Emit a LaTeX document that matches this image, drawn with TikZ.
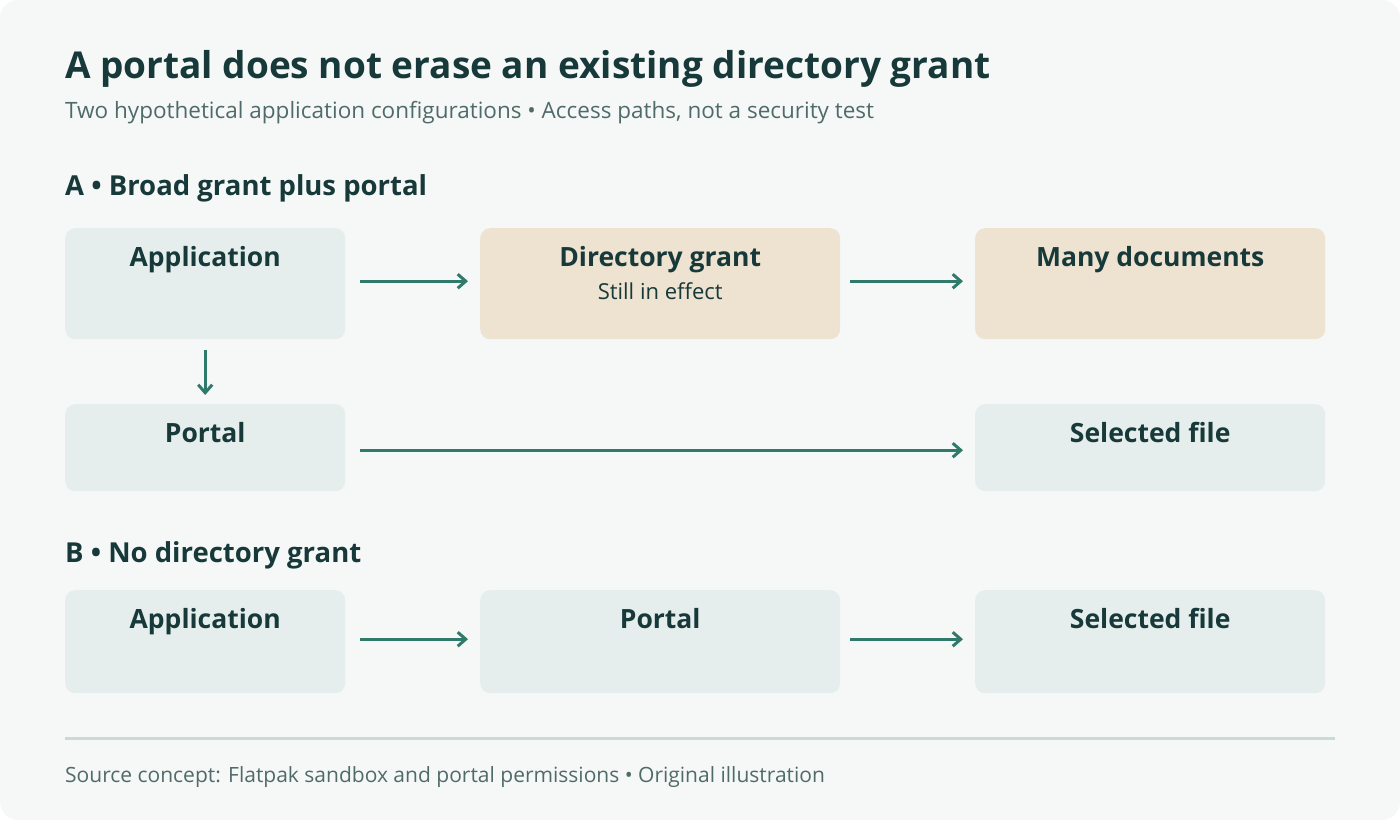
\documentclass[tikz,border=0pt]{standalone}
\usepackage{fontspec}
\setmainfont{Open Sans}
\usetikzlibrary{arrows.meta}
\definecolor{bgcol}{HTML}{F6F8F7}
\definecolor{inkcol}{HTML}{17393A}
\definecolor{greycol}{HTML}{4F6B69}
\definecolor{boxcol}{HTML}{E5EEEC}
\definecolor{sandcol}{HTML}{EEE2D0}
\definecolor{arrcol}{HTML}{2F7A6A}
\definecolor{rulecol}{HTML}{C9DAD8}
\tikzset{
  box/.style={draw=none, fill=boxcol, rounded corners=10pt, anchor=north west, inner sep=0pt},
  grant/.style={box, fill=sandcol},
  head/.style={anchor=north, inner sep=0pt, text=inkcol, font=\fontsize{26.5}{30}\selectfont\bfseries},
  note/.style={anchor=north, inner sep=0pt, text=inkcol, font=\fontsize{22}{26}\selectfont},
  flow/.style={draw=arrcol, line width=3pt, -{Straight Barb[length=8pt,width=14pt,line width=3pt]}},
  sect/.style={anchor=base west, inner sep=0pt, text=inkcol, font=\fontsize{27.5}{32}\selectfont\bfseries}
}
\begin{document}
\begin{tikzpicture}[x=1pt,y=-1pt]
    \fill[bgcol, rounded corners=18pt] (0,0) rectangle (1400,820);
    \useasboundingbox (0,0) rectangle (1400,820);

    \node[anchor=base west, inner sep=0pt, text=inkcol, font=\fontsize{37}{42}\selectfont\bfseries] (title) at (65,78) {A portal does not erase an existing directory grant};
    \node[anchor=base west, inner sep=0pt, text=greycol, font=\fontsize{22.5}{26}\selectfont] (sub) at (65,118) {Two hypothetical application configurations • Access paths, not a security test};

    % configuration A
    \node[sect] (secA) at (65,195) {A • Broad grant plus portal};
    \node[box, minimum width=280pt, minimum height=111pt] (appA) at (65,228) {};
    \node[grant, minimum width=360pt, minimum height=111pt] (dir) at (480,228) {};
    \node[grant, minimum width=350pt, minimum height=111pt] (many) at (975,228) {};
    \node[box, minimum width=280pt, minimum height=87pt] (portA) at (65,404) {};
    \node[box, minimum width=350pt, minimum height=87pt] (selA) at (975,404) {};

    \node[head] at ([yshift=-18pt]appA.north) {Application};
    \node[head] at ([yshift=-18pt]dir.north) {Directory grant};
    \node[note] at ([yshift=-54pt]dir.north) {Still in effect};
    \node[head] at ([yshift=-18pt]many.north) {Many documents};
    \node[head] at ([yshift=-18pt]portA.north) {Portal};
    \node[head] at ([yshift=-18pt]selA.north) {Selected file};

    \draw[flow, shorten <=15pt, shorten >=12pt] ([yshift=2.5pt]appA.east) -- ([yshift=2.5pt]dir.west);
    \draw[flow, shorten <=10pt, shorten >=12pt] ([yshift=2.5pt]dir.east) -- ([yshift=2.5pt]many.west);
    \draw[flow, shorten <=11pt, shorten >=9pt] (appA.south) -- (portA.north);
    \draw[flow, shorten <=15pt, shorten >=12pt] ([yshift=-2.5pt]portA.east) -- ([yshift=-2.5pt]selA.west);

    % configuration B
    \node[sect] (secB) at (65,562) {B • No directory grant};
    \node[box, minimum width=280pt, minimum height=103pt] (appB) at (65,590) {};
    \node[box, minimum width=360pt, minimum height=103pt] (portB) at (480,590) {};
    \node[box, minimum width=350pt, minimum height=103pt] (selB) at (975,590) {};
    \node[head] at ([yshift=-18pt]appB.north) {Application};
    \node[head] at ([yshift=-18pt]portB.north) {Portal};
    \node[head] at ([yshift=-18pt]selB.north) {Selected file};
    \draw[flow, shorten <=15pt, shorten >=12pt] ([yshift=2.5pt]appB.east) -- ([yshift=2.5pt]portB.west);
    \draw[flow, shorten <=10pt, shorten >=12pt] ([yshift=2.5pt]portB.east) -- ([yshift=2.5pt]selB.west);

    \draw[rulecol, line width=3pt] (65,738) -- (1335,738);
    \node[anchor=base west, inner sep=0pt, text=greycol, font=\fontsize{21}{25}\selectfont] (foot) at (65,782) {Source concept: Flatpak sandbox and portal permissions • Original illustration};
\end{tikzpicture}
\end{document}
